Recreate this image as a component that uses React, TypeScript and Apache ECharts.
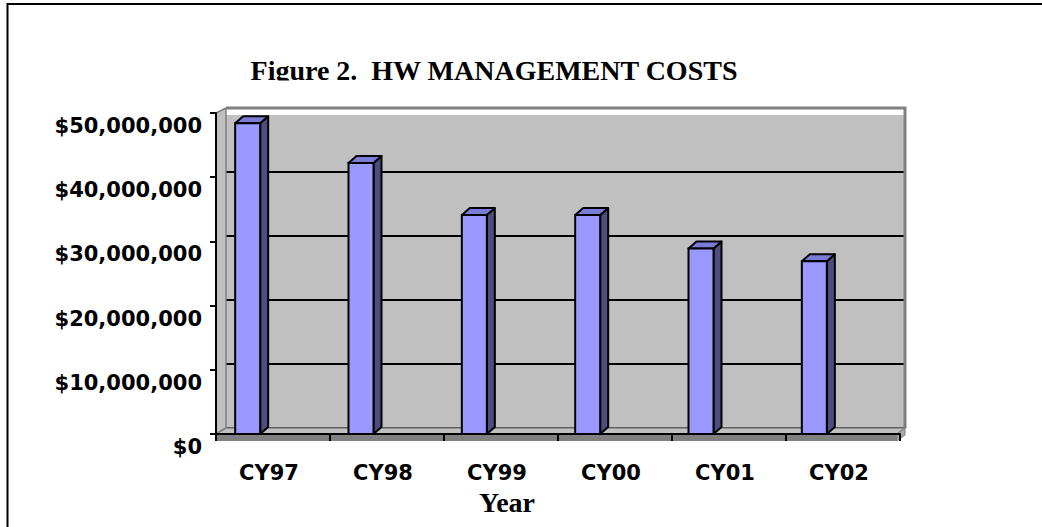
import React, { useEffect, useRef } from "react";
import * as echarts from "echarts";

const categories: string[] = ["CY97", "CY98", "CY99", "CY00", "CY01", "CY02"];
const costs: number[] = [48400000, 42200000, 34100000, 34100000, 28900000, 26900000];
const yMin = 0;
const yMax = 50000000;
const yInterval = 10000000;
const titleText = "Figure 2.  HW MANAGEMENT COSTS";
const xAxisTitle = "Year";

const SANS = '"DejaVu Sans", sans-serif';
const SERIF = '"Liberation Serif", "Times New Roman", serif';

export default function App() {
  const ref = useRef<HTMLDivElement>(null);

  useEffect(() => {
    if (!ref.current) return;
    const chart = echarts.init(ref.current, undefined, { renderer: "svg" });

    const barW = 25;
    const dx = 8;
    const dy = 7;

    const option: any = {
      animation: false,
      backgroundColor: "#ffffff",
      grid: [
        { left: 226, top: 108, width: 679, height: 320, show: true, backgroundColor: "#c0c0c0", borderWidth: 0 },
        { left: 216, top: 113, width: 684, height: 321 },
        { left: 191, top: 113, width: 680, height: 321 },
      ],
      xAxis: [
        { type: "category", gridIndex: 0, data: categories, show: false },
        {
          type: "category",
          gridIndex: 1,
          data: categories,
          z: 5,
          axisLine: { show: true, lineStyle: { color: "#000", width: 2 } },
          axisTick: { show: true, length: 7, lineStyle: { color: "#000", width: 2 } },
          axisLabel: {
            margin: 30,
            color: "#000",
            fontFamily: SANS,
            fontWeight: "bold",
            fontSize: 21,
            lineHeight: 18,
            padding: [0, 8, 0, 0],
          },
          splitLine: { show: false },
        },
        { type: "category", gridIndex: 2, data: categories, show: false },
      ],
      yAxis: [
        {
          type: "value",
          gridIndex: 0,
          min: yMin,
          max: yMax,
          interval: yInterval,
          axisLine: { show: false },
          axisTick: { show: false },
          axisLabel: { show: false },
          splitLine: { show: true, lineStyle: { color: "#000", width: 2 } },
        },
        {
          type: "value",
          gridIndex: 1,
          min: yMin,
          max: yMax,
          interval: yInterval,
          z: 5,
          axisLine: { show: true, lineStyle: { color: "#000", width: 2 } },
          axisTick: { show: true, length: 6, lineStyle: { color: "#000", width: 2 } },
          splitLine: { show: false },
          axisLabel: {
            margin: 14,
            color: "#000",
            fontFamily: SANS,
            fontWeight: "bold",
            fontSize: 21,
            verticalAlign: "top",
            lineHeight: 26,
            formatter: (v: number) => "$" + v.toLocaleString("en-US"),
          },
        },
        { type: "value", gridIndex: 2, min: yMin, max: yMax, show: false },
      ],
      graphic: [
        {
          type: "rect",
          z: 0,
          shape: { x: 7.5, y: 4, width: 1100, height: 600 },
          style: { fill: "none", stroke: "#000", lineWidth: 2 },
        },
        {
          type: "rect",
          z: 1,
          shape: { x: 226, y: 108, width: 679, height: 7 },
          style: { fill: "#ffffff", stroke: "none" },
        },
        {
          type: "polyline",
          z: 1,
          shape: { points: [[226, 108], [905, 108], [905, 428]] },
          style: { stroke: "#808080", lineWidth: 3, fill: "none" },
        },
        {
          type: "polygon",
          z: 1,
          shape: { points: [[216, 113], [226, 108], [226, 428], [216, 434]] },
          style: { fill: "#c0c0c0", stroke: "#808080", lineWidth: 1.5 },
        },
        {
          type: "polygon",
          z: 1,
          shape: { points: [[216, 434], [226, 428], [905, 428], [897, 434]] },
          style: { fill: "#c0c0c0", stroke: "#808080", lineWidth: 1.5 },
        },
        {
          type: "rect",
          z: 1,
          shape: { x: 216, y: 434, width: 681, height: 7 },
          style: { fill: "#808080", stroke: "none" },
        },
        {
          type: "polygon",
          z: 1,
          shape: { points: [[897, 434], [905, 428], [905, 435], [897, 441]] },
          style: { fill: "#a8a8a8", stroke: "#808080", lineWidth: 1 },
        },
        {
          type: "text",
          z: 10,
          x: 494,
          y: 70,
          style: {
            text: titleText,
            fill: "#000",
            font: `bold 28px ${SERIF}`,
            textAlign: "center",
            textVerticalAlign: "middle",
          },
        },
        {
          type: "rect",
          z: 11,
          shape: { x: 240, y: 80.5, width: 520, height: 12 },
          style: { fill: "#ffffff", stroke: "none" },
        },
        {
          type: "text",
          z: 10,
          x: 507,
          y: 502,
          style: {
            text: xAxisTitle,
            fill: "#000",
            font: `bold 28px ${SERIF}`,
            textAlign: "center",
            textVerticalAlign: "middle",
          },
        },
      ],
      series: [
        {
          type: "custom",
          xAxisIndex: 2,
          yAxisIndex: 2,
          z: 4,
          data: costs.map((v, i) => [i, v]),
          renderItem: (params: any, api: any) => {
            const p = api.coord([api.value(0), api.value(1)]);
            const b = api.coord([api.value(0), 0]);
            const x0 = p[0] - barW / 2;
            const x1 = p[0] + barW / 2;
            const yt = p[1];
            const yb = b[1];
            return {
              type: "group",
              children: [
                {
                  type: "polygon",
                  shape: { points: [[x1, yt], [x1 + dx, yt - dy], [x1 + dx, yb - dy], [x1, yb]] },
                  style: { fill: "#4d4d80", stroke: "#000", lineWidth: 2, lineJoin: "round" },
                },
                {
                  type: "polygon",
                  shape: { points: [[x0, yt], [x0 + dx, yt - dy], [x1 + dx, yt - dy], [x1, yt]] },
                  style: { fill: "#7c7cd6", stroke: "#000", lineWidth: 2, lineJoin: "round" },
                },
                {
                  type: "rect",
                  shape: { x: x0, y: yt, width: barW, height: yb - yt },
                  style: { fill: "#9999ff", stroke: "#000", lineWidth: 2 },
                },
              ],
            };
          },
        },
      ],
    };

    chart.setOption(option);
    return () => chart.dispose();
  }, []);

  return (
    <div
      ref={ref}
      style={{ position: "fixed", left: 0, top: 0, width: 1042, height: 527, background: "#fff" }}
    />
  );
}
